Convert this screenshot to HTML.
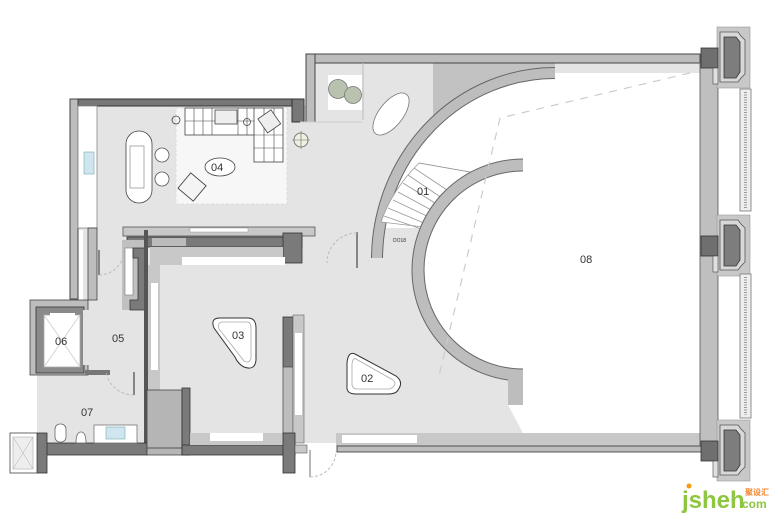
<!DOCTYPE html>
<html><head><meta charset="utf-8"><style>
html,body{margin:0;padding:0;background:#fff;width:780px;height:515px;overflow:hidden}
svg{display:block}
text{font-family:"Liberation Sans","Noto Sans CJK SC",sans-serif;fill:#333}
</style></head><body>
<svg width="780" height="515" viewBox="0 0 780 515" xmlns="http://www.w3.org/2000/svg">
<g fill="#e4e4e4">
<rect x="78" y="105" width="230" height="125"/>
<rect x="306" y="62" width="400" height="380"/>
<rect x="83" y="228" width="430" height="215"/>
<rect x="37" y="372" width="110" height="72"/>
</g>
<path d="M377,260 A178,187 0 0 1 555,73 L700,73 L700,433 L523,433 L523,260 Z" fill="#fff"/>
<rect x="360" y="228" width="165" height="45" fill="#e4e4e4"/>
<path d="M420,270 L420,385 L523,385 L523,270 Z" fill="#e4e4e4"/>
<circle cx="523" cy="270" r="100" fill="#fff"/>
<rect x="523" y="165" width="40" height="270" fill="#fff"/>
<path d="M433,62 L555,62 L555,73 A178,187 0 0 0 433,124 Z" fill="#c2c2c2"/>
<path d="M377,258 A178,187 0 0 1 555,73" fill="none" stroke="#666" stroke-width="12"/>
<path d="M377,258 A178,187 0 0 1 555,73" fill="none" stroke="#bdbdbd" stroke-width="10"/>
<path d="M419,163 L470,172 Q455,190 432,228 L381,222 Q392,190 419,163 Z" fill="#fff" stroke="#999" stroke-width="0.8"/>
<g stroke="#999" stroke-width="0.8">
<line x1="414" y1="168" x2="447" y2="190"/><line x1="408" y1="175" x2="442" y2="198"/>
<line x1="403" y1="183" x2="438" y2="205"/><line x1="398" y1="192" x2="435" y2="212"/>
<line x1="393" y1="200" x2="433" y2="219"/><line x1="388" y1="208" x2="431" y2="226"/>
<line x1="384" y1="216" x2="430" y2="232"/><line x1="419" y1="163" x2="470" y2="172"/>
</g>
<text x="417" y="195" font-size="11">01</text>
<text x="393" y="242" font-size="5">DO18</text>
<path d="M523,165 A105,105 0 0 0 523,375" fill="none" stroke="#666" stroke-width="13"/>
<path d="M523,165 A105,105 0 0 0 523,375" fill="none" stroke="#bdbdbd" stroke-width="11"/>
<rect x="508" y="375" width="15" height="30" fill="#bdbdbd"/>
<path d="M508,405 L523,405 L523,433 Z" fill="#fff"/>
<path d="M690,73 L500,118 L438,380" fill="none" stroke="#ccc" stroke-width="1.2" stroke-dasharray="8,7"/>
<rect x="306" y="54" width="394" height="9" fill="#bdbdbd" stroke="#444" stroke-width="1"/>
<rect x="306" y="54" width="9" height="68" fill="#bdbdbd" stroke="#444" stroke-width="1"/>
<rect x="70" y="99" width="232" height="7" fill="#777" stroke="#333" stroke-width="1"/>
<rect x="292" y="99" width="12" height="23" fill="#777" stroke="#333" stroke-width="1"/>
<line x1="363" y1="63" x2="363" y2="120" stroke="#bbb"/>
<line x1="300" y1="122" x2="362" y2="122" stroke="#ccc"/>
<rect x="70" y="99" width="8" height="200" fill="#bdbdbd" stroke="#444" stroke-width="1"/>
<rect x="78" y="106" width="19" height="122" fill="#fff" stroke="#888" stroke-width="0.8"/>
<rect x="84" y="152" width="10" height="22" fill="#cfe6f0" stroke="#7aa" stroke-width="0.6"/>
<rect x="88" y="228" width="9" height="72" fill="#bdbdbd" stroke="#444" stroke-width="0.8"/>
<rect x="30" y="300" width="58" height="75" fill="#bdbdbd" stroke="#444" stroke-width="0.8"/>
<rect x="36" y="307" width="48" height="66" fill="#8a8a8a" stroke="#333" stroke-width="0.8"/>
<rect x="44" y="315" width="36" height="52" fill="#fff" stroke="#aaa" stroke-width="0.8"/>
<path d="M44,315 L80,367 M80,315 L44,367" stroke="#ccc" stroke-width="0.8"/>
<rect x="50" y="313" width="25" height="4" fill="#fff"/>
<rect x="83" y="310" width="6" height="55" fill="#e4e4e4"/>
<rect x="85" y="370" width="25" height="5" fill="#777"/>
<rect x="123" y="227" width="192" height="9" fill="#c8c8c8" stroke="#555" stroke-width="0.8"/>
<rect x="190" y="228" width="58" height="4" fill="#fff" stroke="#999" stroke-width="0.5"/>
<rect x="127" y="237" width="175" height="10" fill="#7a7a7a" stroke="#333" stroke-width="0.8"/>
<rect x="152" y="238" width="34" height="8" fill="#bbb"/>
<rect x="283" y="233" width="19" height="30" fill="#7a7a7a" stroke="#333" stroke-width="0.8"/>
<rect x="150" y="247" width="133" height="18" fill="#c8c8c8"/>
<rect x="182" y="257" width="103" height="8" fill="#fff"/>
<rect x="160" y="265" width="130" height="2" fill="#e4e4e4"/>
<rect x="122" y="240" width="25" height="70" fill="#c0c0c0"/>
<rect x="125" y="248" width="8" height="47" fill="#fff" stroke="#777" stroke-width="0.6"/>
<path d="M133,248 L147,248 L147,310 L130,310 L130,300 L138,300 L138,258 L133,258 Z" fill="#7a7a7a" stroke="#333" stroke-width="0.8"/>
<rect x="144" y="230" width="4" height="225" fill="#555"/>
<rect x="148" y="265" width="12" height="125" fill="#c8c8c8"/>
<rect x="151" y="283" width="7" height="87" fill="#fff"/>
<path d="M357,232 L357,268" stroke="#666" stroke-width="1.5"/>
<path d="M357,233 A30,30 0 0 0 327,263" fill="none" stroke="#bbb" stroke-dasharray="3,2"/>
<path d="M99,250 L99,275" stroke="#666" stroke-width="1.5"/>
<path d="M99,275 A25,25 0 0 0 124,250" fill="none" stroke="#bbb" stroke-dasharray="3,2"/>
<path d="M134,372 L134,395" stroke="#666" stroke-width="1.5"/>
<path d="M134,395 A28,28 0 0 1 106,372" fill="none" stroke="#bbb" stroke-dasharray="3,2"/>
<path d="M310,450 L310,477" stroke="#888" stroke-width="1.2"/>
<path d="M310,477 A26,26 0 0 0 336,451" fill="none" stroke="#bbb" stroke-dasharray="3,2"/>
<rect x="283" y="317" width="10" height="50" fill="#7a7a7a" stroke="#333" stroke-width="0.8"/>
<rect x="283" y="367" width="10" height="78" fill="#bdbdbd" stroke="#555" stroke-width="0.8"/>
<rect x="293" y="315" width="11" height="128" fill="#c8c8c8" stroke="#666" stroke-width="0.6"/>
<rect x="295" y="333" width="7" height="82" fill="#fff"/>
<rect x="37" y="443" width="110" height="12" fill="#7a7a7a" stroke="#333" stroke-width="0.8"/>
<rect x="37" y="433" width="10" height="40" fill="#7a7a7a" stroke="#333" stroke-width="0.8"/>
<rect x="10" y="433" width="27" height="40" fill="#fff" stroke="#444" stroke-width="0.8"/>
<rect x="13" y="437" width="20" height="32" fill="#eee" stroke="#aaa" stroke-width="0.6"/>
<path d="M13,437 L33,469 M33,437 L13,469" stroke="#bbb" stroke-width="0.6"/>
<rect x="147" y="390" width="35" height="65" fill="#b5b5b5" stroke="#444" stroke-width="0.8"/>
<line x1="147" y1="448" x2="182" y2="448" stroke="#555"/>
<rect x="182" y="388" width="8" height="67" fill="#7a7a7a" stroke="#333" stroke-width="0.8"/>
<rect x="182" y="445" width="113" height="10" fill="#7a7a7a" stroke="#333" stroke-width="0.8"/>
<rect x="190" y="433" width="93" height="12" fill="#c8c8c8"/>
<rect x="210" y="433" width="53" height="8" fill="#fff"/>
<rect x="283" y="433" width="12" height="40" fill="#7a7a7a" stroke="#333" stroke-width="0.8"/>
<rect x="295" y="445" width="12" height="8" fill="#c8c8c8" stroke="#555" stroke-width="0.6"/>
<rect x="336" y="433" width="364" height="13" fill="#c8c8c8"/>
<rect x="342" y="435" width="75" height="8" fill="#fff"/>
<rect x="337" y="446" width="380" height="6" fill="#bdbdbd" stroke="#333" stroke-width="0.8"/>
<rect x="55" y="424" width="11" height="18" rx="5" fill="#fff" stroke="#666" stroke-width="0.8"/>
<path d="M76,443 Q76,432 81,432 Q86,432 86,443 Z" fill="#fff" stroke="#666" stroke-width="0.8"/>
<rect x="94" y="425" width="43" height="18" fill="#fff" stroke="#777" stroke-width="0.8"/>
<rect x="106" y="427" width="19" height="12" fill="#cfe6f0" stroke="#7aa" stroke-width="0.6"/>
<rect x="700" y="62" width="18" height="384" fill="#bfbfbf" stroke="#555" stroke-width="0.8"/>
<g id="col">
<rect x="717" y="27" width="33" height="61" fill="#c8c8c8" stroke="#999" stroke-width="0.6"/>
<path d="M720,32 L738,32 L741,36 L745,40 L745,74 L741,78 L738,82 L720,82 Z" fill="#d8d8d8" stroke="#555" stroke-width="0.8"/>
<path d="M724,37 L736,37 L740,42 L740,72 L736,78 L724,78 Z" fill="#7d7d7d" stroke="#333" stroke-width="0.8"/>
<rect x="701" y="48" width="17" height="20" fill="#6f6f6f" stroke="#333" stroke-width="0.8"/>
<rect x="713" y="68" width="5" height="16" fill="#e0e0e0" stroke="#444" stroke-width="0.6"/>
</g>
<use href="#col" y="188"/>
<use href="#col" y="393"/>
<rect x="740" y="89" width="11" height="122" fill="#eee" stroke="#777" stroke-width="0.8"/>
<line x1="745.5" y1="92" x2="745.5" y2="208" stroke="#999" stroke-width="3" stroke-dasharray="1,1.5"/>
<rect x="740" y="274" width="11" height="144" fill="#eee" stroke="#777" stroke-width="0.8"/>
<line x1="745.5" y1="277" x2="745.5" y2="415" stroke="#999" stroke-width="3" stroke-dasharray="1,1.5"/>
<rect x="176" y="108" width="111" height="96" fill="#f7f7f7" stroke="#ddd" stroke-dasharray="3,2"/>
<g fill="#fff" stroke="#444" stroke-width="0.8">
<rect x="185" y="108" width="70" height="27"/>
<rect x="254" y="108" width="29" height="54"/>
</g>
<g stroke="#444" stroke-width="0.6">
<line x1="185" y1="121" x2="254" y2="121"/>
<line x1="194" y1="108" x2="194" y2="135"/><line x1="203" y1="108" x2="203" y2="135"/>
<line x1="212" y1="108" x2="212" y2="135"/><line x1="238" y1="108" x2="238" y2="135"/>
<line x1="247" y1="108" x2="247" y2="135"/>
<line x1="254" y1="135" x2="283" y2="135"/><line x1="254" y1="148" x2="283" y2="148"/>
<line x1="264" y1="108" x2="264" y2="162"/><line x1="274" y1="108" x2="274" y2="162"/>
</g>
<rect x="215" y="110" width="22" height="14" fill="#eee" stroke="#444" stroke-width="0.8"/>
<rect x="261" y="113" width="16" height="17" fill="#eee" stroke="#444" stroke-width="0.8" transform="rotate(-35 269 121)"/>
<circle cx="176" cy="120" r="4" fill="none" stroke="#444" stroke-width="0.8"/>
<circle cx="247" cy="122" r="3.5" fill="none" stroke="#444" stroke-width="0.8"/>
<rect x="126" y="131" width="26" height="72" rx="13" fill="#fff" stroke="#444" stroke-width="0.8"/>
<rect x="130" y="146" width="14" height="42" fill="#fff" stroke="#777" stroke-width="0.6"/>
<circle cx="162" cy="155" r="7" fill="#fff" stroke="#555" stroke-width="0.8"/>
<circle cx="162" cy="179" r="7" fill="#fff" stroke="#555" stroke-width="0.8"/>
<rect x="182" y="177" width="20" height="20" fill="#f4f4f4" stroke="#444" stroke-width="0.9" transform="rotate(40 192 187)"/>
<ellipse cx="220" cy="167" rx="15" ry="9" fill="#fff" stroke="#444" stroke-width="0.8"/>
<text x="211" y="171" font-size="11">04</text>
<circle cx="301" cy="140" r="7" fill="#f0f0e0" stroke="#666" stroke-width="0.8"/>
<path d="M292,140 L310,140 M301,131 L301,149" stroke="#666" stroke-width="0.6"/>
<rect x="328" y="75" width="34" height="35" fill="#fff"/>
<circle cx="338" cy="89" r="9.5" fill="#b9c2ae" stroke="#777" stroke-width="0.8"/>
<circle cx="353" cy="95" r="8.5" fill="#b9c2ae" stroke="#777" stroke-width="0.8"/>
<ellipse cx="391" cy="114" rx="12" ry="25" fill="#fff" stroke="#777" stroke-width="0.8" transform="rotate(38 391 114)"/>
<path d="M220,318 L248,318 Q256,318 256,328 L256,360 Q255,371 244,367 Q238,364 235,357 L214,328 Q210,318 220,318 Z" fill="#fff" stroke="#333" stroke-width="1"/>
<path d="M223,322 L247,322 Q251,322 251,328 L251,358 Q250,364 244,361 L219,329 Q217,322 223,322 Z" fill="none" stroke="#aaa" stroke-width="0.8"/>
<text x="232" y="339" font-size="11">03</text>
<path d="M355,354 L396,376 Q404,382 398,390 Q396,394 388,394 L356,394 Q346,394 347,386 L347,363 Q348,351 355,354 Z" fill="#fff" stroke="#333" stroke-width="1"/>
<path d="M356,359 L393,380 Q398,385 390,389 L357,389 Q352,389 352,384 L352,364 Q353,357 356,359 Z" fill="none" stroke="#aaa" stroke-width="0.8"/>
<text x="361" y="382" font-size="11">02</text>
<text x="112" y="342" font-size="11">05</text>
<text x="55" y="345" font-size="11">06</text>
<text x="81" y="416" font-size="11">07</text>
<text x="580" y="263" font-size="11">08</text>
<text x="682" y="508" font-size="24" font-weight="bold" style="fill:#8dc63f">jsheh</text>
<circle cx="689" cy="486" r="2.5" fill="#f39c12"/>
<text x="745" y="495" font-size="8" font-weight="bold" style="fill:#f0822a">聚设汇</text>
<text x="742" y="508" font-size="12" font-weight="bold" style="fill:#8dc63f">com</text>
</svg>
</body></html>
